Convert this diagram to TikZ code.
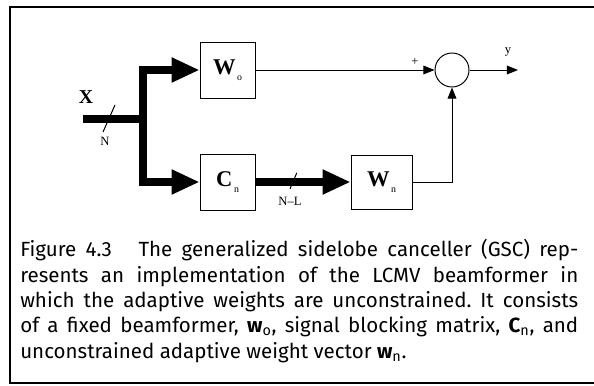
\documentclass[tikz,border=0pt]{standalone}
\usepackage{fontspec}
\newfontfamily\capfont{Fira Sans}
\newfontfamily\blkfont{Liberation Serif}
\usetikzlibrary{arrows.meta, positioning}
\newcommand{\bvec}[2]{{\bfseries #1}\textsubscript{#2}}
\newcommand{\blksub}[1]{\raisebox{-0.6ex}{\fontsize{7}{7}\selectfont\mdseries\,#1}}

\begin{document}
\begin{tikzpicture}[
  block/.style={draw, line width=0.6pt, minimum width=1.375cm, minimum height=1.4cm, inner sep=0pt,
    font=\blkfont\fontsize{16}{16}\selectfont\bfseries},
  bus/.style={line width=5.6pt},
  sig/.style={line width=0.7pt},
  bigtip/.style={-{Triangle[length=7mm,width=5.8mm]}},
  smalltip/.style={-{Triangle[length=2.8mm,width=2.2mm]}},
  lbl/.style={font=\blkfont\fontsize{9}{9}\selectfont}
]
\useasboundingbox (0,0) rectangle (14.85,-9.65);
% frame
\draw[line width=1.6pt] (14.85,-0.175) -- (0.25,-0.175) -- (0.25,-9.575) -- (14.85,-9.575);

% blocks
\node[block] (Wo) at (5.69,-1.75) {W\blksub{o}};
\node[block] (Cn) at (5.69,-4.55) {C\blksub{n}};
\node[block, minimum width=1.525cm, minimum height=1.35cm] (Wn) at (9.54,-4.55) {W\blksub{n}};
\node[draw, circle, sig, minimum size=0.85cm, inner sep=0pt] (sum) at (11.3,-1.75) {};
\coordinate (in) at (2.075,-2.975);
\coordinate (fork) at (3.575,-2.975);
\coordinate (out) at (12.95,-1.75);

% input bus
\draw[bus] (in) -- (fork);
\draw[bus, bigtip] (fork) |- (Wo);
\draw[bus, bigtip] (fork) |- (Cn);
\draw[bus, bigtip] (Cn) -- (Wn);
\node[font=\blkfont\fontsize{14}{14}\selectfont\bfseries] (xin) at (2.15,-2.425) {X};
\draw[sig] (2.875,-2.625) -- (2.575,-3.3);
\node[lbl] (nin) at (2.625,-3.525) {N};
\draw[sig] (7.42,-4.32) -- (7.25,-4.72);
\node[lbl] (nnl) at (7.25,-5.025) {N\textendash L};

% signal paths
\draw[sig, smalltip] (Wo) -- (sum);
\draw[sig, smalltip] (Wn) -| (sum);
\draw[sig, smalltip] (sum) -- (out);
\node[lbl] (plus) at (10.375,-1.55) {+};
\node[lbl] (yout) at (12.7,-1.3) {y};

% caption
\node[anchor=north west, inner sep=0pt, text width=13.95cm, align=justify,
  font=\capfont\fontsize{14.6}{18}\selectfont\frenchspacing] (cap) at (0.5,-5.98)
  {Figure 4.3\hspace*{1.3em}The generalized sidelobe canceller (GSC) rep-\linebreak
   resents an implementation of the LCMV beamformer in\linebreak
   which the adaptive weights are unconstrained. It consists\linebreak
   of a fixed beamformer, \bvec{w}{o}, signal blocking matrix, \bvec{C}{n}, and\linebreak
   unconstrained adaptive weight vector \bvec{w}{n}.};
\end{tikzpicture}
\end{document}
